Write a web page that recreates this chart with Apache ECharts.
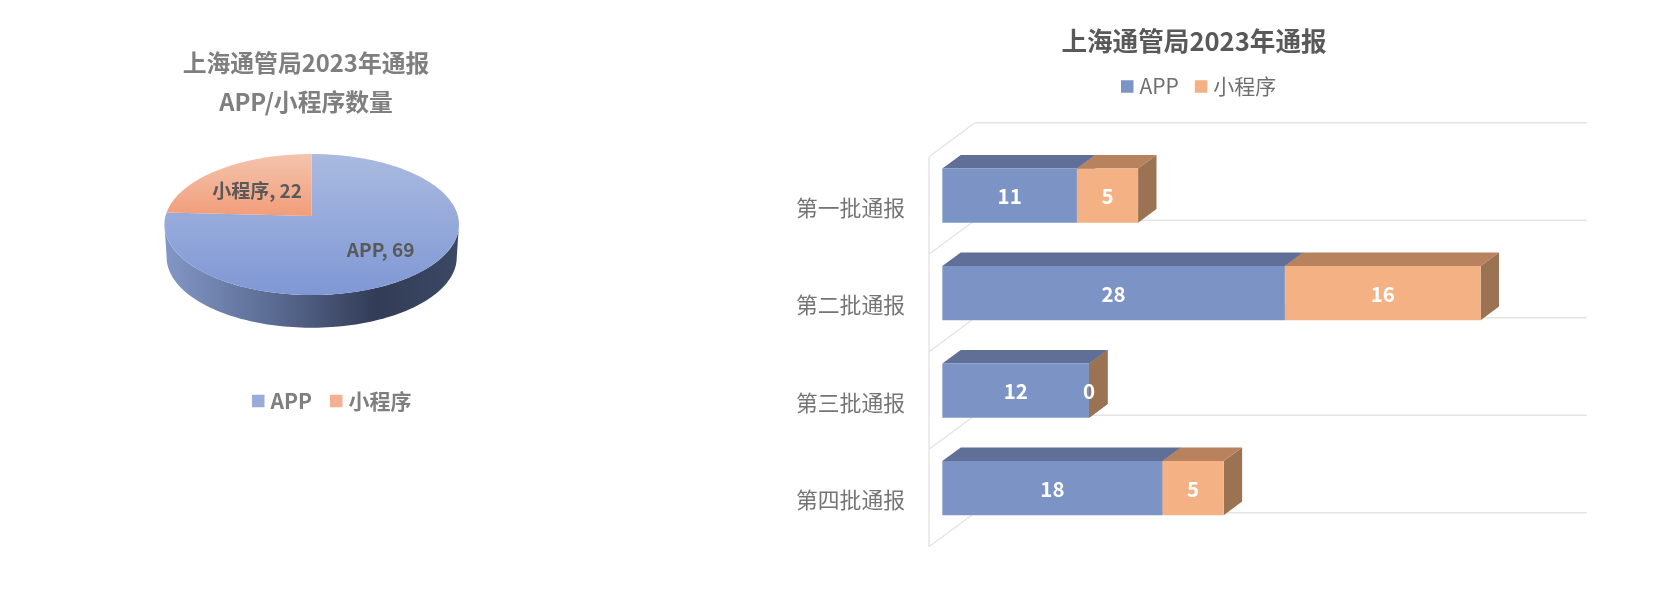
<!DOCTYPE html>
<html>
<head>
<meta charset="utf-8">
<script src="https://cdn.jsdelivr.net/npm/echarts@6/dist/echarts.min.js"></script>
<style>html,body{margin:0;padding:0;background:#fff}#c{width:1659px;height:601px;filter:blur(0.5px)}</style>
</head>
<body>
<div id="c"></div>
<script>
var titleLeft = '上海通管局2023年通报\nAPP/小程序数量';
var titleRight = '上海通管局2023年通报';
var seriesNames = ['APP', '小程序'];
var pieNames = ['小程序', 'APP'];
var pieValues = [22, 69];
var categories = ['第一批通报', '第二批通报', '第三批通报', '第四批通报'];
var appValues = [11, 28, 12, 18];
var miniValues = [5, 16, 0, 5];

var FONT = '"Noto Sans CJK SC","Noto Sans",sans-serif';
var LG = echarts.graphic.LinearGradient;
var chart = echarts.init(document.getElementById('c'), null, {renderer: 'canvas'});

/* ---------- 3D pie ---------- */
var P = {cx: 311.7, cy: 216, R: 146.2, A: 69.5, k: 0.1207, depth: 32.7, shrink: 0.985};
function proj(t, scale, dy) {
  var u = -Math.sin(2 * Math.PI * t), v = -Math.cos(2 * Math.PI * t), d = 1 - P.k * v;
  return [P.cx + scale * P.R * u / d, P.cy + dy + P.A * v / d];
}
function arc(t0, t1, scale, dy) {
  var pts = [], n = Math.max(2, Math.ceil(Math.abs(t1 - t0) * 240));
  for (var i = 0; i <= n; i++) pts.push(proj(t0 + (t1 - t0) * i / n, scale, dy));
  return pts;
}
var pieTotal = pieValues.reduce(function (a, b) { return a + b; }, 0);
var pieStyles = {
  '小程序': {top: ['#f4c4ae', '#f29d7a'], rx: 0.59, ry: 0.55},
  'APP': {top: ['#aabae0', '#7f98d5'], rx: 0.625, ry: 0.62}
};
function renderSlice(name) {
  return function (params, api) {
    var start = api.value(0) / pieTotal, end = (api.value(0) + api.value(1)) / pieTotal;
    var st = pieStyles[name], children = [];
    if (name === 'APP') {
      var off = Math.asin(P.k) / (2 * Math.PI);
      var side = arc(0.25 + off, 0.75 - off, 1, 0).concat(arc(0.75 - off, 0.25 + off, P.shrink, P.depth));
      children.push({type: 'polygon', shape: {points: side}, style: {fill: new LG(0, 0, 1, 0, [
        {offset: 0, color: '#8397c6'}, {offset: 0.33, color: '#5f7098'},
        {offset: 0.72, color: '#323c57'}, {offset: 1, color: '#3c4964'}])}});
    }
    children.push({type: 'polygon', shape: {points: [[P.cx, P.cy]].concat(arc(start, end, 1, 0))},
      style: {fill: new LG(0, 0, 0, 1, [{offset: 0, color: st.top[0]}, {offset: 1, color: st.top[1]}])}});
    var midV = proj((start + end) / 2, 1, 0);
    children.push({type: 'text', style: {
      text: name + ', ' + api.value(1),
      x: P.cx + (midV[0] - P.cx) * st.rx, y: P.cy + (midV[1] - P.cy) * st.ry,
      fill: '#595959', font: 'bold 19px ' + FONT, textAlign: 'center', textVerticalAlign: 'middle'}});
    return {type: 'group', children: children};
  };
}
var startAcc = 0;
var pieSeries = pieNames.map(function (n, i) {
  var s = {type: 'custom', name: n, coordinateSystem: 'none', silent: true, z: n === 'APP' ? 2 : 3,
    data: [[startAcc, pieValues[i]]], renderItem: renderSlice(n), animation: false};
  startAcc += pieValues[i];
  return s;
});

/* ---------- 3D stacked bars ---------- */
var B = {wallDx: 46, wallDy: 34, barFront: 0.29, barBack: 0.69, thick: 0.556};
function renderWall(params, api) {
  var i = api.value(0), band = api.size([0, 1])[1];
  var top = api.coord([0, i])[1] - band / 2, bot = top + band;
  var x0 = api.coord([0, i])[0], x1 = api.coord([50, i])[0];
  var ls = {stroke: '#e4e4e4', lineWidth: 1.4, fill: null};
  var ch = [
    {type: 'line', shape: {x1: x0, y1: top, x2: x0, y2: bot}, style: ls},
    {type: 'line', shape: {x1: x0, y1: bot, x2: x0 + B.wallDx, y2: bot - B.wallDy}, style: ls},
    {type: 'line', shape: {x1: x0 + B.wallDx, y1: bot - B.wallDy, x2: x1 + B.wallDx, y2: bot - B.wallDy}, style: ls}
  ];
  if (i === 0) {
    ch.push({type: 'line', shape: {x1: x0, y1: top, x2: x0 + B.wallDx, y2: top - B.wallDy}, style: ls});
    ch.push({type: 'line', shape: {x1: x0 + B.wallDx, y1: top - B.wallDy, x2: x1 + B.wallDx, y2: top - B.wallDy}, style: ls});
  }
  return {type: 'group', children: ch};
}
function renderBar(colors, startOf) {
  return function (params, api) {
    var i = api.value(1), val = api.value(0), s = startOf(i);
    var band = api.size([0, 1])[1], c0 = api.coord([s, i]), c1 = api.coord([s + val, i]);
    var ox = B.wallDx * B.barFront, oy = -B.wallDy * B.barFront;
    var dx = B.wallDx * (B.barBack - B.barFront), dy = B.wallDy * (B.barBack - B.barFront);
    var h = band * B.thick, xa = c0[0] + ox, xb = c1[0] + ox, yt = c0[1] + oy - h / 2, yb = yt + h;
    return {type: 'group', children: [
      {type: 'polygon', shape: {points: [[xa, yt], [xb, yt], [xb + dx, yt - dy], [xa + dx, yt - dy]]}, style: {fill: colors.top}},
      {type: 'polygon', shape: {points: [[xb, yt], [xb + dx, yt - dy], [xb + dx, yb - dy], [xb, yb]]}, style: {fill: colors.side}},
      {type: 'rect', shape: {x: xa, y: yt, width: xb - xa, height: h}, style: {fill: colors.face}},
      {type: 'text', z2: 20, style: {text: String(val), x: (xa + xb) / 2, y: (yt + yb) / 2 + 1, fill: '#fff',
        font: 'bold 20.5px ' + FONT, textAlign: 'center', textVerticalAlign: 'middle'}}
    ]};
  };
}
function pairs(vals) { return vals.map(function (v, i) { return [v, i]; }); }

var option = {
  backgroundColor: '#fff',
  animation: false,
  title: [
    {text: titleLeft, left: 301, top: 38, textAlign: 'center',
      textStyle: {fontFamily: FONT, fontSize: 23.8, fontWeight: 'bold', color: '#7f7f7f', lineHeight: 39.5}},
    {text: titleRight, left: 1189, top: 23, textAlign: 'center',
      textStyle: {fontFamily: FONT, fontSize: 25.6, fontWeight: 'bold', color: '#595959'}}
  ],
  legend: [
    {left: 247, top: 385.5, icon: 'rect', itemWidth: 12.5, itemHeight: 12.5, itemGap: 18, selectedMode: false,
      textStyle: {fontFamily: FONT, fontSize: 21, fontWeight: 'bold', color: '#7f7f7f', padding: [0, 0, 0, 1]},
      data: [{name: seriesNames[0], itemStyle: {color: '#9aaad9'}}, {name: seriesNames[1], itemStyle: {color: '#f4b093'}}]},
    {left: 1116, top: 71, icon: 'rect', itemWidth: 12.5, itemHeight: 12.5, itemGap: 16, selectedMode: false,
      textStyle: {fontFamily: FONT, fontSize: 21, color: '#6f6f6f', padding: [0, 0, 0, 1]},
      data: [{name: seriesNames[0], itemStyle: {color: '#7c93c6'}}, {name: seriesNames[1], itemStyle: {color: '#f4b183'}}]}
  ],
  grid: {left: 929, top: 156.7, width: 611.7, height: 390},
  xAxis: {type: 'value', min: 0, max: 50, interval: 10, show: false},
  yAxis: {type: 'category', inverse: true, data: categories,
    axisLine: {show: false}, axisTick: {show: false}, splitLine: {show: false},
    axisLabel: {margin: 24, fontFamily: FONT, fontSize: 21.8, color: '#757575', verticalAlign: 'top', lineHeight: 4}},
  series: pieSeries.concat([
    {type: 'custom', name: 'wall', silent: true, z: 1, renderItem: renderWall, data: categories.map(function (c, i) { return [i, i]; }),
      encode: {x: 0, y: 1}},
    {type: 'custom', name: seriesNames[0], silent: true, z: 2, data: pairs(appValues), encode: {x: 0, y: 1},
      itemStyle: {color: '#7c93c6'},
      renderItem: renderBar({face: '#7c93c6', top: '#5f6f97', side: '#5f6f97'}, function () { return 0; })},
    {type: 'custom', name: seriesNames[1], silent: true, z: 3, data: pairs(miniValues), encode: {x: 0, y: 1},
      itemStyle: {color: '#f4b183'},
      renderItem: renderBar({face: '#f4b183', top: '#b9825f', side: '#9c7352'}, function (i) { return appValues[i]; })}
  ])
};
chart.setOption(option);
</script>
</body>
</html>
